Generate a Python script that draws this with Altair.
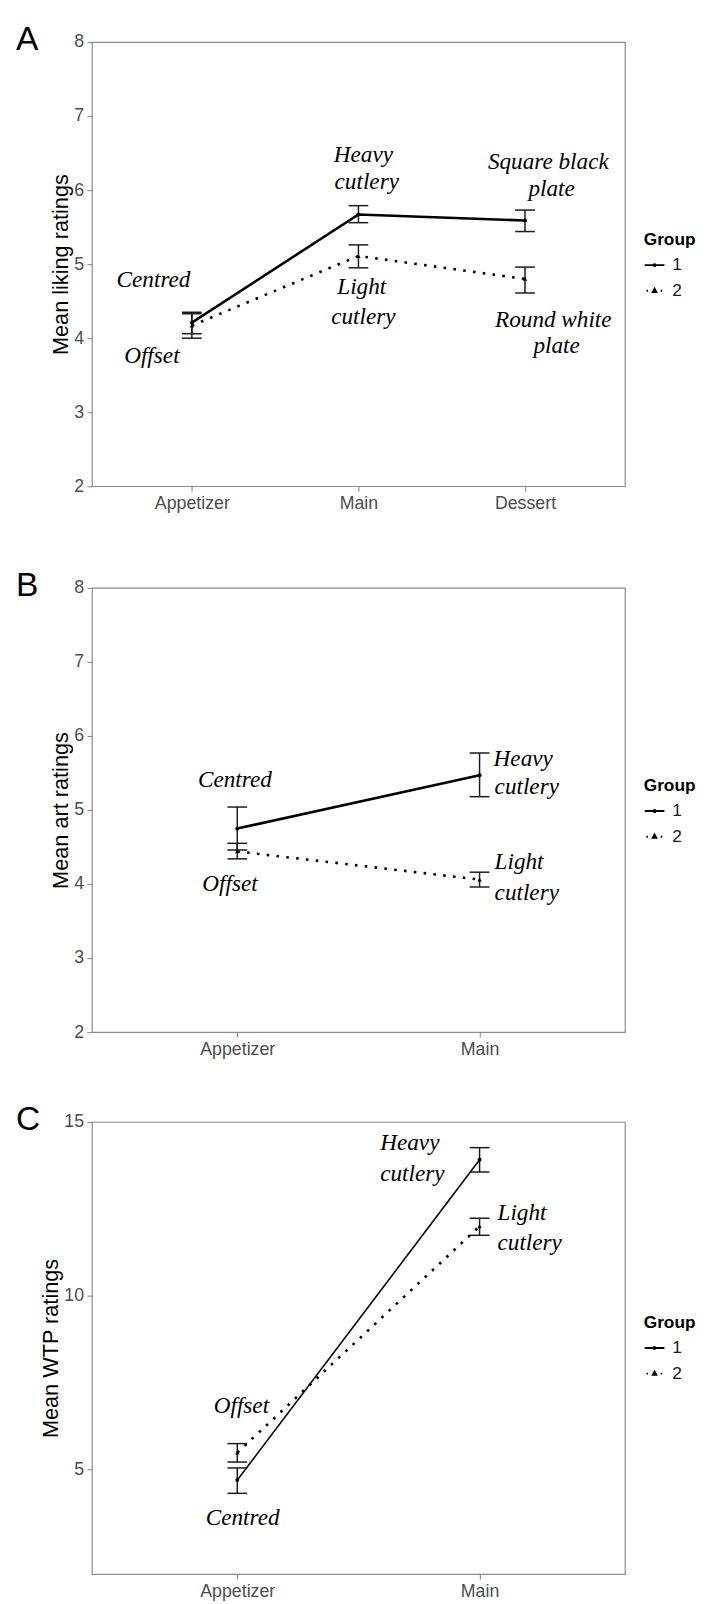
import altair as alt
import pandas as pd

FONT = "Liberation Sans"
SERIF = "Liberation Serif"

# ---------------- Panel A : liking ----------------
A_courses = ["Appetizer", "Main", "Dessert"]
A_g1_mean = [4.21, 5.67, 5.59]
A_g1_lo = [4.06, 5.56, 5.44]
A_g1_hi = [4.35, 5.79, 5.73]
A_g2_mean = [4.17, 5.11, 4.80]
A_g2_lo = [4.00, 4.95, 4.61]
A_g2_hi = [4.33, 5.26, 4.96]
A_text = ["Centred", "Offset", "Heavy", "cutlery", "Light", "cutlery",
          "Square black", "plate", "Round white", "plate"]
A_text_x = [0.77, 0.76, 2.03, 2.05, 2.02, 2.03, 3.14, 3.16, 3.17, 3.19]
A_text_y = [4.79, 3.76, 6.47, 6.11, 4.69, 4.29, 6.38, 6.01, 4.25, 3.89]
A_text_align = ["center"] * 10

# ---------------- Panel B : art ----------------
B_courses = ["Appetizer", "Main"]
B_g1_mean = [4.75, 5.47]
B_g1_lo = [4.46, 5.18]
B_g1_hi = [5.04, 5.77]
B_g2_mean = [4.44, 4.06]
B_g2_lo = [4.34, 3.96]
B_g2_hi = [4.55, 4.16]
B_text = ["Centred", "Offset", "Heavy", "cutlery", "Light", "cutlery"]
B_text_x = [0.99, 0.97, 2.058, 2.062, 2.062, 2.062]
B_text_y = [5.40, 4.00, 5.69, 5.31, 4.29, 3.88]
B_text_align = ["center", "center", "left", "left", "left", "left"]

# ---------------- Panel C : WTP ----------------
C_courses = ["Appetizer", "Main"]
C_g1_mean = [4.70, 13.91]
C_g1_lo = [4.32, 13.56]
C_g1_hi = [5.05, 14.26]
C_g2_mean = [5.49, 12.00]
C_g2_lo = [5.22, 11.74]
C_g2_hi = [5.75, 12.23]
C_text = ["Heavy", "cutlery", "Light", "cutlery", "Offset", "Centred"]
C_text_x = [1.59, 1.59, 2.074, 2.074, 1.017, 1.022]
C_text_y = [14.39, 13.51, 12.39, 11.51, 6.83, 3.62]
C_text_align = ["left", "left", "left", "left", "center", "center"]

GROUPS = ["1", "2"]
LEG_PATHS = [
    "M-1,0H1M0.1,0A0.1,0.1,0,1,1,-0.1,0A0.1,0.1,0,1,1,0.1,0Z",
    "M-0.82,0H-0.66M0.62,0H0.78M0,-0.2L0.17,0.12L-0.17,0.12Z",
]


def panel(letter, courses, g1m, g1lo, g1hi, g2m, g2lo, g2hi, ytitle, ydomain,
          yvals, texts, tx, ty, talign, height, lw, legend_y):
    n = len(courses)
    pos = list(range(1, n + 1))
    pts = pd.DataFrame({
        "pos": pos + pos,
        "course": courses + courses,
        "group": ["1"] * n + ["2"] * n,
        "mean": g1m + g2m,
        "lo": g1lo + g2lo,
        "hi": g1hi + g2hi,
    })
    ann = pd.DataFrame({"label": texts, "tx": tx, "ty": ty, "al": talign})

    label_arr = "[" + ",".join("'%s'" % c for c in courses) + "]"
    xscale = alt.Scale(domain=[0.4, n + 0.6], nice=False, zero=False)
    xaxis = alt.Axis(values=pos, labelExpr=label_arr + "[datum.value-1]", title=None)
    yscale = alt.Scale(domain=ydomain, nice=False, zero=False)
    yaxis = alt.Axis(values=yvals, title=ytitle)

    def X(f):
        return alt.X(f + ":Q", scale=xscale, axis=xaxis, title=None)

    def Y(f):
        return alt.Y(f + ":Q", scale=yscale, axis=yaxis, title=ytitle)

    base = alt.Chart(pts)
    line1 = base.transform_filter("datum.group == '1'").mark_line(
        color="black", strokeWidth=lw).encode(x=X("pos"), y=Y("mean"))
    line2 = base.transform_filter("datum.group == '2'").mark_line(
        color="black", strokeWidth=2.6, strokeDash=[2.6, 7.4]).encode(x=X("pos"), y=Y("mean"))
    rule = base.mark_rule(color="#1a1a1a", strokeWidth=1.5).encode(
        x=X("pos"), y=Y("lo"), y2="hi:Q")
    cap_lo = base.mark_tick(orient="horizontal", size=20, thickness=1.5,
                            color="#1a1a1a", opacity=1).encode(x=X("pos"), y=Y("lo"))
    cap_hi = base.mark_tick(orient="horizontal", size=20, thickness=1.5,
                            color="#1a1a1a", opacity=1).encode(x=X("pos"), y=Y("hi"))
    pt1 = base.transform_filter("datum.group == '1'").mark_point(
        shape="circle", filled=True, size=16, color="black", opacity=1).encode(
        x=X("pos"), y=Y("mean"))
    pt2 = base.transform_filter("datum.group == '2'").mark_point(
        shape="triangle-up", filled=True, size=20, color="black", opacity=1).encode(
        x=X("pos"), y=Y("mean"))
    carrier = base.mark_point(filled=False, opacity=0, color="black").encode(
        x=X("pos"), y=Y("mean"),
        shape=alt.Shape("group:N",
                        scale=alt.Scale(domain=GROUPS, range=LEG_PATHS),
                        legend=alt.Legend(
                            title="Group", orient="none", legendX=559, legendY=legend_y,
                            titleFont=FONT, titleFontSize=17.5, titleFontWeight="bold",
                            titleColor="black", titlePadding=6,
                            labelFont=FONT, labelFontSize=17.5, labelColor="#1a1a1a",
                            labelOffset=7, rowPadding=6,
                            symbolSize=400, symbolStrokeWidth=2,
                            symbolStrokeColor="black", symbolFillColor="black",
                            symbolOpacity=1)))
    tbase = alt.Chart(ann)
    tstyle = dict(font=SERIF, fontStyle="italic", fontSize=23.5, baseline="middle", color="black")
    txt_c = tbase.transform_filter("datum.al == 'center'").mark_text(
        align="center", **tstyle).encode(x=X("tx"), y=Y("ty"), text="label:N")
    txt_l = tbase.transform_filter("datum.al == 'left'").mark_text(
        align="left", **tstyle).encode(x=X("tx"), y=Y("ty"), text="label:N")
    tag = alt.Chart(pd.DataFrame({"tag": [letter]})).mark_text(
        align="left", baseline="alphabetic", font=FONT, fontSize=34, color="black").encode(
        text="tag:N", x=alt.value(-77), y=alt.value(8.5))

    return alt.layer(line1, line2, rule, cap_lo, cap_hi, pt1, pt2, carrier,
                     txt_c, txt_l, tag).properties(width=540, height=height)


pA = panel("A", A_courses, A_g1_mean, A_g1_lo, A_g1_hi, A_g2_mean, A_g2_lo, A_g2_hi,
           "Mean liking ratings", [2, 8], [2, 3, 4, 5, 6, 7, 8],
           A_text, A_text_x, A_text_y, A_text_align, 450, 2.6, 191.5)
pB = panel("B", B_courses, B_g1_mean, B_g1_lo, B_g1_hi, B_g2_mean, B_g2_lo, B_g2_hi,
           "Mean art ratings", [2, 8], [2, 3, 4, 5, 6, 7, 8],
           B_text, B_text_x, B_text_y, B_text_align, 450, 2.6, 191.5)
pC = panel("C", C_courses, C_g1_mean, C_g1_lo, C_g1_hi, C_g2_mean, C_g2_lo, C_g2_hi,
           "Mean WTP ratings", [2, 15], [5, 10, 15],
           C_text, C_text_x, C_text_y, C_text_align, 458, 1.6, 194.5)

inner = alt.vconcat(pB, pC, spacing=43).resolve_scale(
    x="independent", y="independent", shape="independent").resolve_legend(shape="independent")
chart = alt.vconcat(pA, inner, spacing=55).resolve_scale(
    x="independent", y="independent", shape="independent").resolve_legend(
    shape="independent").properties(
    padding={"left": 7, "top": 4, "right": 0, "bottom": 0}
).configure_view(
    stroke="#8a8a8a", strokeWidth=1.2
).configure_axis(
    grid=False, domain=False, tickColor="#8a8a8a", tickSize=5, tickWidth=1.1,
    labelFont=FONT, labelFontSize=18, labelColor="#4d4d4d", labelPadding=3.5,
    titleFont=FONT, titleFontSize=22, titleColor="black", titleFontWeight="normal",
    titlePadding=1
)

chart.save("out.html", embed_options={"renderer": "svg", "actions": False})
